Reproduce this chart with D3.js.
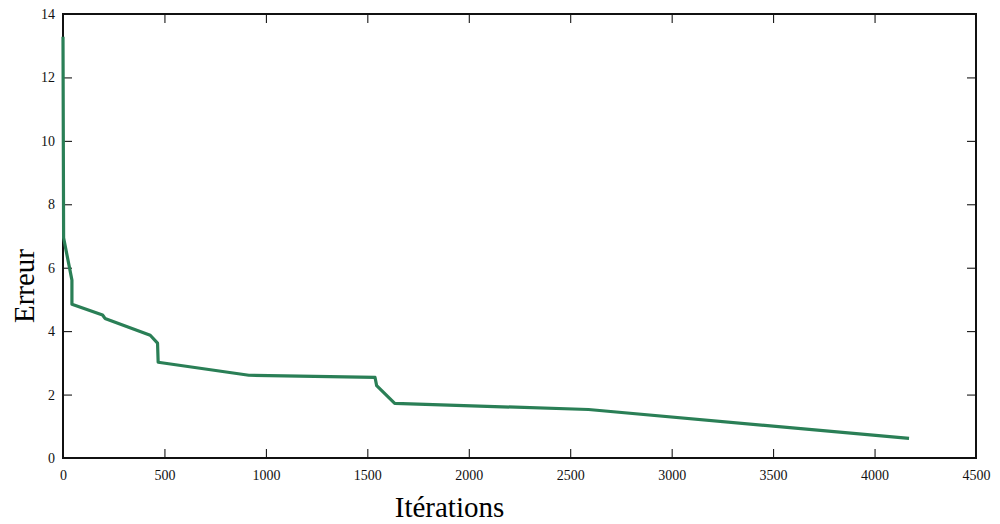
<!DOCTYPE html>
<html><head><meta charset="utf-8">
<script src="https://cdn.jsdelivr.net/npm/d3@7"></script>
<style>body{margin:0;background:#fff}svg{display:block}</style>
</head><body>
<svg id="c" width="1000" height="524"></svg>
<script>
const iterations = [0, 3, 44, 44, 195, 207, 430, 466, 469, 916, 1538, 1546, 1635, 2590, 4170];
const errors = [13.28, 6.94, 5.61, 4.85, 4.51, 4.40, 3.87, 3.62, 3.02, 2.61, 2.54, 2.28, 1.72, 1.53, 0.62];
const xTicks = [0, 500, 1000, 1500, 2000, 2500, 3000, 3500, 4000, 4500];
const yTicks = [0, 2, 4, 6, 8, 10, 12, 14];
const xLabel = "Itérations", yLabel = "Erreur";

const SERIF = "'Liberation Serif', 'Times New Roman', serif";
const svg = d3.select("#c");
const L = 63, R = 976, T = 14, B = 458;
const x = d3.scaleLinear().domain([0, 4500]).range([L, R]);
const y = d3.scaleLinear().domain([0, 14]).range([B, T]);
const fmt = d3.format("d");

const g = svg.append("g");
function styleAxis(a){ a.attr("font-family", null); a.select(".domain").remove(); a.selectAll("line").attr("stroke","#000").attr("stroke-width",1); a.selectAll("text").style("font-size","14px").style("fill","#111").style("font-family",SERIF); }
g.append("g").attr("transform",`translate(0,${B})`).call(d3.axisBottom(x).tickValues(xTicks).tickFormat(fmt).tickSizeInner(-9).tickSizeOuter(0).tickPadding(12)).call(styleAxis);
g.append("g").attr("transform",`translate(0,${T})`).call(d3.axisTop(x).tickValues(xTicks).tickSizeInner(-9).tickSizeOuter(0).tickFormat("")).call(styleAxis);
g.append("g").attr("transform",`translate(${L},0)`).call(d3.axisLeft(y).tickValues(yTicks).tickFormat(fmt).tickSizeInner(-9).tickSizeOuter(0).tickPadding(8)).call(styleAxis);
g.append("g").attr("transform",`translate(${R},0)`).call(d3.axisRight(y).tickValues(yTicks).tickSizeInner(-9).tickSizeOuter(0).tickFormat("")).call(styleAxis);

g.append("rect").attr("x",L).attr("y",T).attr("width",R-L).attr("height",B-T).attr("fill","none").attr("stroke","#111").attr("stroke-width",2);

const line = d3.line().x((d,i)=>x(iterations[i])).y(d=>y(d));
g.append("path").datum(errors).attr("d",line).attr("fill","none").attr("stroke","#2a7f56").attr("stroke-width",3.2).attr("stroke-linejoin","round");

svg.append("text").attr("x",(L+R)/2 - 70).attr("y",517).attr("text-anchor","middle").style("font-family",SERIF).style("font-size","29px").text(xLabel);
svg.append("text").attr("transform",`translate(34,${(T+B)/2+50}) rotate(-90)`).attr("text-anchor","middle").style("font-family",SERIF).style("font-size","29px").text(yLabel);
</script>
</body></html>
